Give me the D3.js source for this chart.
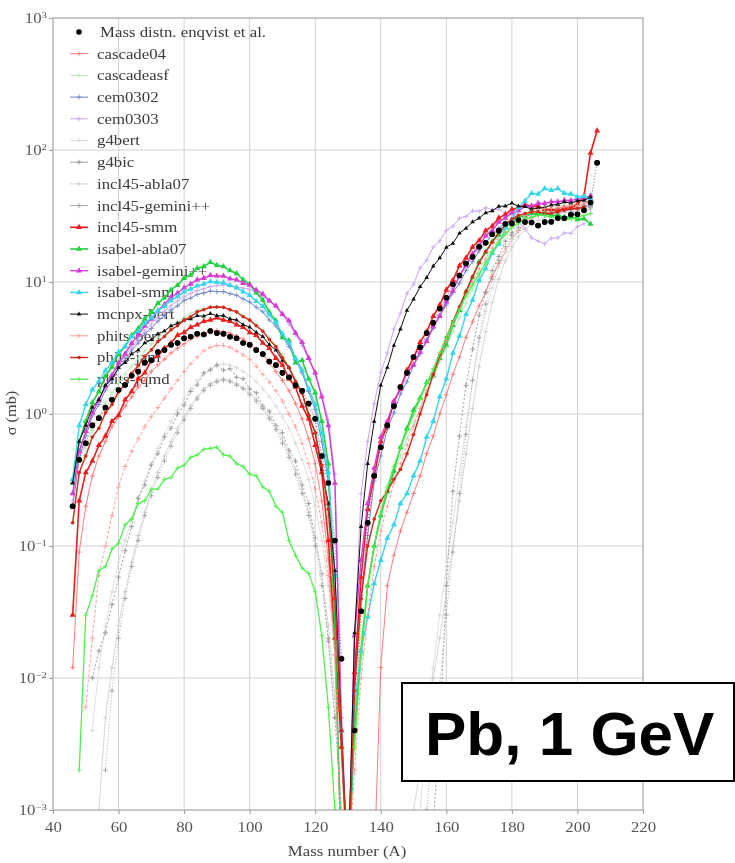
<!DOCTYPE html>
<html><head><meta charset="utf-8">
<script src="https://cdn.jsdelivr.net/npm/d3@7"></script>
<style>body{margin:0;background:#fff} svg{display:block}</style>
</head><body>
<svg id="chart" width="735" height="863"></svg>
<script>
// ---------------- DATA ----------------
const massNumbers = [46,48,50,52,54,56,58,60,62,64,66,68,70,72,74,76,78,80,82,84,86,88,90,92,94,96,98,100,102,104,106,108,110,112,114,116,118,120,122,124,126,128,
  130,132,134,136,138,140,142,144,146,148,150,152,154,156,158,160,162,164,166,168,170,172,174,176,178,180,182,184,186,188,190,192,194,196,198,200,202,204,206,208];
const xTickValues = [40,60,80,100,120,140,160,180,200,220];
const yTickExponents = [-3,-2,-1,0,1,2,3];
const seriesNames = ["Mass distn. enqvist et al.","cascade04","cascadeasf","cem0302","cem0303","g4bert","g4bic",
  "incl45-abla07","incl45-gemini++","incl45-smm","isabel-abla07","isabel-gemini++","isabel-smm","mcnpx-bert","phits-bert","phits-jam","phits-jqmd"];

const expData = [0.2,0.45,0.6,0.82,0.93,1.12,1.28,1.52,1.66,1.95, 2.1,2.45,2.55,2.95,3.05,3.35,3.45,3.75,3.85,4.05,
  4.0,4.25,4.1,4.05,3.85,3.75,3.45,3.35,3.05,2.85, 2.5,2.35,2.05,1.9,1.65,1.5,1.2,0.92,0.48,0.3, 0.11,0.014,
  null,0.004,0.032,0.15,0.34,0.56,0.82,1.15,1.6,2.05, 2.7,3.2,4.1,4.9,6.3,7.6,9.6,11.2,13.8,15.5,
  18.5,19.8,23,24.5,27.5,27.8,29.5,28.5,28.2,26.8, 28.5,28.6,30.5,30.4,32.5,32.6,35,40,80,null];
const cascade04 = [0.012,0.09,0.2,0.34,0.48,0.62,0.8,0.95,1.15,1.35, 1.6,1.8,2.1,2.35,2.6,2.9,3.15,3.4,3.7,3.9,
  4.1,4.2,4.3,4.2,4.1,3.9,3.7,3.4,3.1,2.8, 2.45,2.1,1.8,1.5,1.2,0.92,0.65,0.42,0.22,0.08, 0.015,0.0004,
  null,null,null,null,0.0004,0.012,0.05,0.085,0.13,0.18, 0.25,0.34,0.5,0.68,1.0,1.4,2.0,2.7,3.8,5.0,
  6.6,8.4,11,13.8,17,21,24.5,28,30.5,33, 34,35.5,36,37.5,38,39,40,42,null,null];
const cascadeasf = [0.15,0.35,0.55,0.75,0.95,1.2,1.45,1.7,2.0,2.3, 2.65,3.0,3.4,3.8,4.2,4.6,5.0,5.4,5.8,6.1,
  6.3,6.5,6.5,6.4,6.2,5.9,5.6,5.2,4.8,4.3, 3.8,3.3,2.8,2.3,1.85,1.45,1.05,0.7,0.4,0.15, 0.03,0.003,
  0.0003,0.004,0.02,0.05,0.1,0.17,0.25,0.35,0.48,0.65, 0.85,1.1,1.45,1.9,2.5,3.2,4.2,5.4,6.9,8.7,
  11,13.5,16.5,20,23.5,27,30,33,35,36, 37,37.5,38,38,38.5,39,39.5,40,null,null];
const cem0302 = [0.2,0.46,0.68,0.97,1.18,1.52,1.78,2.22,2.55,3.05, 3.45,4.05,4.45,5.05,5.55,6.15,6.6,7.25,7.55,8.05,
  8.25,8.55,8.45,8.45,8.15,7.95,7.45,7.05,6.45,5.95, 5.15,4.65,3.85,3.25,2.55,2.05,1.48,1.08,0.62,0.31, 0.06,0.005,
  0.0003,0.009,0.042,0.12,0.31,0.48,0.77,1.02,1.42,1.76, 2.35,2.85,3.65,4.45,5.6,6.7,8.3,9.8,12.2,14.3,
  17.2,19.6,23.3,25.6,28.4,29.6,31.3,31.6,32.4,32.6, 33.4,33.6,34.5,34.6,35.4,35.7,37.2,38,null,null];
const cem0303 = [0.22,0.5,0.72,1.0,1.3,1.6,1.95,2.35,2.75,3.2, 3.7,4.25,4.8,5.4,6.0,6.6,7.2,7.7,8.2,8.6,
  8.9,9.2,9.4,9.5,9.4,9.2,9.0,8.8,8.3,7.8, 7.2,6.5,5.7,4.8,4.0,3.3,2.6,2.0,1.4,0.9, 0.35,0.006,
  0.0003,0.02,0.25,0.62,1.2,2.05,2.9,4.4,5.8,8.2, 9.6,12.8,14.6,18.4,20.5,24.6,26.4,30.5,31.4,34.5,
  34.4,36.5,35.2,35.6,33.2,32.4,28.5,25.4,21.6,20.4, 19.5,21.4,21.6,23.5,23.4,26.3,27.6,null,null,null];
const g4bert = [null,null,null,0.004,0.012,0.025,0.045,0.075,0.11,0.16, 0.23,0.31,0.42,0.55,0.7,0.88,1.08,1.3,1.55,1.8,
  2.0,2.2,2.35,2.4,2.35,2.25,2.1,1.95,1.75,1.55, 1.35,1.15,0.95,0.78,0.6,0.45,0.32,0.2,0.11,0.05, 0.015,0.003,
  null,null,null,null,null,null,null,null,null,null, null,0.001,0.004,0.012,0.03,0.07,0.15,0.35,0.8,1.8,
  3.5,6,9,13,17,21,25,28,30,32, 33,34,34.5,35,35.5,36,36.5,37,null,null];
const g4bic = [null,null,null,0.01,0.016,0.022,0.036,0.058,0.092,0.14, 0.23,0.29,0.41,0.5,0.67,0.78,1.0,1.17,1.48,1.66,
  2.05,2.15,2.35,2.15,2.2,1.9,1.85,1.55,1.45,1.15, 1.05,0.82,0.72,0.53,0.44,0.29,0.21,0.115,0.062,0.019, 0.005,0.001,
  null,null,null,null,null,null,null,null,null,null, null,null,null,0.0008,0.004,0.05,0.26,0.68,1.65,3.1,
  5.6,8.3,12.2,15.6,20.4,23.6,28.4,30.6,33.5,33.6, 35.4,34.6,36.4,35.6,37.4,36.6,38.3,37.5,null,null];
const incl45Abla07 = [null,null,null,null,0.001,0.005,0.012,0.025,0.045,0.075, 0.12,0.18,0.26,0.36,0.48,0.62,0.78,0.95,1.15,1.35,
  1.55,1.7,1.8,1.85,1.8,1.7,1.58,1.45,1.3,1.12, 0.95,0.8,0.65,0.5,0.38,0.27,0.18,0.11,0.06,0.025, 0.007,0.001,
  null,null,null,null,null,null,null,null,null,null, 0.001,0.002,0.005,0.01,0.02,0.045,0.1,0.22,0.5,1.1,
  2.3,4.2,7,10.5,14.5,18.5,22,25,27.5,29.5, 31,32,33,33.5,34,34.5,35,35.5,null,null];
const incl45Gemini = [null,null,null,null,null,0.002,0.008,0.02,0.04,0.07, 0.11,0.17,0.24,0.33,0.44,0.57,0.72,0.9,1.1,1.3,
  1.5,1.65,1.75,1.8,1.75,1.65,1.55,1.4,1.25,1.1, 0.92,0.76,0.6,0.47,0.35,0.25,0.17,0.1,0.05,0.02, 0.005,null,
  null,null,null,null,null,null,null,null,null,null, null,null,0.001,0.003,0.009,0.03,0.09,0.25,0.7,1.8,
  3.8,6.8,10.5,14.5,18.5,22.5,26,29,31,32.5, 33.5,34,34.5,35,35,35.5,36,36.5,null,null];
const incl45Smm = [0.03,0.22,0.36,0.44,0.58,0.68,0.88,0.98,1.28,1.48, 1.85,2.05,2.55,2.75,3.15,3.45,3.95,4.15,4.55,4.75,
  5.05,5.15,5.35,5.15,5.05,4.75,4.55,4.15,3.95,3.45, 3.15,2.65,2.35,1.85,1.6,1.15,0.92,0.58,0.36,0.11, 0.02,0.003,
  0.0003,0.011,0.058,0.19,0.34,0.62,0.82,1.25,1.55,2.15, 2.65,3.5,4.2,5.5,6.7,8.7,10.3,13.3,15.2,18.4,
  20.6,24.5,26.5,30.6,32.4,35.6,36.4,38.5,37.4,37.6, 35.4,35.6,34.6,36.4,36.5,38.6,45,95,140,null];
const isabelAbla07 = [0.3,0.62,0.88,1.22,1.48,1.93,2.27,2.85,3.25,3.95, 4.45,5.25,5.9,6.9,7.6,8.75,9.45,10.7,11.3,12.7,
  13.1,14.1,13.4,13.1,12.2,11.6,10.4,9.6,8.3,7.3, 5.9,5.1,3.8,3.6,2.45,2.55,1.85,1.45,0.88,0.42, 0.025,0.0004,
  0.0003,0.004,0.016,0.05,0.1,0.17,0.26,0.37,0.56,0.78, 1.07,1.32,1.73,1.96,2.65,3.35,4.7,6.1,8.4,10.8,
  14.2,16.8,20.3,22.7,26.3,28.7,31.2,31.8,33.2,32.8, 33.2,31.8,32.3,30.8,31.2,29.8,30.2,27.5,null,null];
const isabelGemini = [0.25,0.52,0.74,1.02,1.28,1.63,1.97,2.43,2.86,3.44, 3.96,4.65,5.25,6.05,6.75,7.65,8.25,9.05,9.65,10.4,
  10.7,11.2,11.1,11.1,10.6,10.4,9.8,9.5,8.7,8.1, 7.2,6.6,5.7,5.1,4.1,3.5,2.65,2.05,1.35,0.82, 0.3,0.004,
  0.0003,0.021,0.078,0.21,0.39,0.67,0.88,1.23,1.56,2.05, 2.35,2.95,3.55,4.6,5.5,7.1,8.6,11.2,13.3,16.3,
  18.7,22.4,24.6,28.5,30.6,33.5,34.6,37.5,37.6,39.5, 39.4,40.6,40.5,41.6,41.4,42.6,43,45,null,null];
const isabelSmm = [0.32,0.82,1.18,1.53,1.77,2.14,2.46,2.95,3.25,3.85, 4.25,4.85,5.35,6.05,6.55,7.25,7.75,8.45,8.85,9.35,
  9.65,10.1,9.95,9.85,9.45,9.05,8.45,7.95,7.15,6.55, 5.65,4.95,4.05,3.45,2.65,2.15,1.55,1.18,0.72,0.36, 0.06,0.004,
  0.0003,0.006,0.016,0.029,0.052,0.078,0.115,0.145,0.21,0.25, 0.34,0.44,0.67,0.88,1.35,1.85,2.9,3.9,5.7,7.3,
  10.3,12.6,16.5,19.4,25.6,29.3,36.8,41,47,46.5, 51,49.5,51,47,46.5,44.2,44.6,42.5,null,null];
const mcnpxBert = [0.3,0.62,0.82,1.12,1.28,1.65,1.85,2.25,2.45,2.85, 3.05,3.45,3.65,4.05,4.25,4.65,4.85,5.15,5.25,5.55,
  5.5,5.75,5.55,5.55,5.25,5.15,4.75,4.55,4.15,3.85, 3.35,3.05,2.55,2.25,1.75,1.45,0.98,0.72,0.38,0.21, 0.065,0.004,
  0.0003,0.022,0.14,0.42,0.88,1.65,2.25,3.3,4.4,6.1, 7.4,9.2,10.8,13.2,15.2,18.3,19.6,23.4,25.5,28.5,
  30.5,33.4,34.6,37.4,37.6,39.5,37.5,37.2,35.6,36.4, 36.6,38.3,38.6,40.4,39.6,41.2,41.5,44,null,null];
const phitsBert = [null,null,0.006,0.02,0.06,0.1,0.17,0.28,0.4,0.52, 0.65,0.8,0.95,1.12,1.32,1.55,1.8,2.1,2.4,2.7,
  3.0,3.2,3.3,3.3,3.2,3.0,2.8,2.6,2.3,2.0, 1.75,1.5,1.25,1.0,0.8,0.6,0.42,0.27,0.15,0.06, 0.015,0.0004,
  0.0003,0.002,0.01,0.03,0.07,0.13,0.2,0.3,0.42,0.58, 0.8,1.1,1.5,2.0,2.7,3.6,4.8,6.3,8.0,10,
  12.5,15,18,21,24,27,30,32,34,35, 36,36,37,37,38,38,39,40,null,null];
const phitsJam = [0.15,0.36,0.48,0.67,0.78,1.02,1.18,1.47,1.68,2.03, 2.32,2.74,3.06,3.54,3.86,4.34,4.66,5.14,5.46,5.94,
  6.16,6.44,6.46,6.44,6.16,5.94,5.46,5.14,4.66,4.24, 3.66,3.24,2.66,2.24,1.76,1.44,0.98,0.72,0.41,0.19, 0.04,0.004,
  0.0003,0.008,0.04,0.1,0.16,0.22,0.26,0.32,0.38,0.5, 0.7,1.0,1.4,2.0,2.8,3.8,5.0,6.5,8.5,11,
  14,17,20,24,27,30,32,33,34,34, 33,33,34,35,36,36,37,null,null,null];
const phitsJqmd = [null,0.002,0.03,0.042,0.065,0.07,0.095,0.105,0.145,0.16, 0.21,0.22,0.27,0.27,0.32,0.33,0.39,0.41,0.47,0.49,
  0.54,0.55,0.56,0.49,0.48,0.42,0.4,0.35,0.34,0.28, 0.26,0.2,0.18,0.11,0.085,0.068,0.062,0.045,0.021,0.006, 0.001,null,
  null,0.003,0.015,0.05,0.1,0.18,0.28,0.4,0.55,0.75, 1.0,1.3,1.7,2.2,2.9,3.8,4.9,6.2,7.8,9.5,
  11.5,14,17,20,23,26,28,30,31,32, 32,31,31,30,30,31,32,33,null,null];

const seriesValues = [expData,cascade04,cascadeasf,cem0302,cem0303,g4bert,g4bic,incl45Abla07,incl45Gemini,
  incl45Smm,isabelAbla07,isabelGemini,isabelSmm,mcnpxBert,phitsBert,phitsJam,phitsJqmd];

// ---------------- STYLES ----------------
const styles = [
  {color:"#000000", width:0.8, marker:"circle", line:false},
  {color:"#ff6f6f", width:0.9, marker:"plus"},
  {color:"#aee8ae", width:0.9, marker:"plus"},
  {color:"#6a82cc", width:1.0, marker:"plus"},
  {color:"#c9a4f0", width:1.0, marker:"plus"},
  {color:"#d8d8d8", width:0.8, marker:"plus"},
  {color:"#8c8c8c", width:0.8, marker:"plus", dash:"2,2"},
  {color:"#cccccc", width:0.8, marker:"plus"},
  {color:"#9a9a9a", width:0.8, marker:"plus", dash:"1,2"},
  {color:"#ee1c1c", width:1.6, marker:"triangle"},
  {color:"#22d040", width:1.6, marker:"triangle"},
  {color:"#d43cd4", width:1.4, marker:"triangle"},
  {color:"#36d6ec", width:1.4, marker:"triangle"},
  {color:"#111111", width:1.0, marker:"triangleSmall"},
  {color:"#ff9a9a", width:1.0, marker:"plus", dash:"3,2"},
  {color:"#d42a1a", width:1.4, marker:"dot"},
  {color:"#4ef04e", width:1.3, marker:"plus"}
];

// ---------------- CHART ----------------
const svg = d3.select("#chart");
const x = d3.scaleLinear().domain([40,220]).range([53,643]);
const y = d3.scaleLog().domain([1e-3,1e3]).range([810,18]);
const serif = "'Liberation Serif','DejaVu Serif',Times,serif";
const stretchX = 1.2;

const defs = svg.append("defs");
defs.append("filter").attr("id","soft").attr("x","-2%").attr("y","-2%").attr("width","104%").attr("height","104%")
  .append("feGaussianBlur").attr("stdDeviation",0.55);
defs.append("clipPath").attr("id","plotclip").append("rect")
  .attr("x",x(40)).attr("y",y(1e3)).attr("width",x(220)-x(40)).attr("height",y(1e-3)-y(1e3));

const root = svg.append("g").attr("filter","url(#soft)");

// grid
const grid = root.append("g");
grid.selectAll("line.vx").data(xTickValues).join("line")
  .attr("x1",d=>x(d)).attr("x2",d=>x(d)).attr("y1",y(1e-3)).attr("y2",y(1e3))
  .attr("stroke","#d0d0d0").attr("stroke-width",1);
grid.selectAll("line.hy").data(yTickExponents).join("line")
  .attr("x1",x(40)).attr("x2",x(220)).attr("y1",d=>y(Math.pow(10,d))).attr("y2",d=>y(Math.pow(10,d)))
  .attr("stroke","#d0d0d0").attr("stroke-width",1);
root.append("rect").attr("x",x(40)).attr("y",y(1e3)).attr("width",x(220)-x(40)).attr("height",y(1e-3)-y(1e3))
  .attr("fill","none").attr("stroke","#a8a8a8").attr("stroke-width",1);

// axes
const xAxis = root.append("g").attr("transform",`translate(0,${y(1e-3)})`)
  .call(d3.axisBottom(x).tickValues(xTickValues).tickSize(4).tickPadding(8).tickFormat(d3.format("d")));
xAxis.select(".domain").remove();
xAxis.selectAll("line").attr("stroke","#999");
xAxis.selectAll("text").attr("font-family",serif).attr("font-size",14).attr("fill","#555")
  .attr("transform",`scale(${stretchX},1)`);

const yAxis = root.append("g").attr("transform",`translate(${x(40)},0)`)
  .call(d3.axisLeft(y).tickValues(yTickExponents.map(e=>Math.pow(10,e))).tickSize(4).tickPadding(6).tickFormat(""));
yAxis.select(".domain").remove();
yAxis.selectAll("line").attr("stroke","#999");
yAxis.selectAll(".tick").each(function(d){
  const t = d3.select(this).append("text").attr("x",-5).attr("dy","0.35em").attr("text-anchor","end")
    .attr("font-family",serif).attr("font-size",14).attr("fill","#555")
    .attr("transform",`scale(${stretchX},1)`);
  t.append("tspan").text("10");
  t.append("tspan").attr("dy","-0.55em").attr("font-size",9).text(String(Math.round(Math.log10(d))).replace("-","\u2212"));
});

root.append("text").attr("transform",`translate(347,856) scale(${stretchX},1)`).attr("text-anchor","middle")
  .attr("font-family",serif).attr("font-size",14).attr("fill","#444").text("Mass number (A)");
root.append("text").attr("transform","translate(16,413) rotate(-90) scale(1.25,1.1)").attr("text-anchor","middle")
  .attr("font-family",serif).attr("font-size",13).attr("fill","#444").text("\u03c3 (mb)");

// marker drawing
function drawMarker(g, style, px, py){
  const c = style.color;
  if(style.marker==="circle"){
    g.append("circle").attr("cx",px).attr("cy",py).attr("r",2.8).attr("fill",c);
  } else if(style.marker==="dot"){
    g.append("circle").attr("cx",px).attr("cy",py).attr("r",1.8).attr("fill",c);
  } else if(style.marker==="triangle" || style.marker==="triangleSmall"){
    g.append("path").attr("transform",`translate(${px},${py})`)
      .attr("d",d3.symbol(d3.symbolTriangle, style.marker==="triangle"?16:9)()).attr("fill",c);
  } else {
    g.append("path").attr("d",`M${px-2.5},${py}H${px+2.5}M${px},${py-2.5}V${py+2.5}`)
      .attr("stroke",c).attr("stroke-width",0.8);
  }
}

// legend (drawn beneath data)
const legend = root.append("g");
seriesNames.forEach((name,i)=>{
  const ly = 32 + i*21.7;
  const st = styles[i];
  const lg = legend.append("g");
  if(i>0){
    lg.append("line").attr("x1",70).attr("x2",88).attr("y1",ly).attr("y2",ly)
      .attr("stroke",st.color).attr("stroke-width",st.width);
  }
  drawMarker(lg, st, 79, ly);
  lg.append("text").attr("transform",`translate(${i===0?100:97},${ly}) scale(${stretchX},1)`).attr("dy","0.35em")
    .attr("font-family",serif).attr("font-size",14).attr("fill","#3a3a3a").text(name);
});

// data
const plot = root.append("g").attr("clip-path","url(#plotclip)");
const line = d3.line().defined(d=>d[1]!=null).x(d=>x(d[0])).y(d=>y(d[1]));

seriesValues.forEach((vals,i)=>{
  const st = styles[i];
  const pts = massNumbers.map((a,k)=>[a, vals[k]]);
  const g = plot.append("g");
  if(st.line!==false){
    g.append("path").attr("d",line(pts)).attr("fill","none").attr("stroke",st.color)
      .attr("stroke-width",st.width).attr("stroke-dasharray",st.dash||null);
  } else {
    g.append("path").attr("d",line(pts)).attr("fill","none").attr("stroke",st.color)
      .attr("stroke-width",0.6).attr("stroke-dasharray","1,2");
  }
  pts.filter(d=>d[1]!=null).forEach(d=>drawMarker(g, st, x(d[0]), y(d[1])));
});
// experimental markers again on top
{
  const st = styles[0];
  const g = plot.append("g");
  massNumbers.forEach((a,k)=>{ if(expData[k]!=null) drawMarker(g, st, x(a), y(expData[k])); });
}

// Label box (crisp)
svg.append("rect").attr("x",402).attr("y",683).attr("width",332).attr("height",98)
  .attr("fill","#fff").attr("stroke","#000").attr("stroke-width",2);
svg.append("text").attr("x",425).attr("y",755)
  .attr("font-family","'Liberation Sans',Arial,Helvetica,sans-serif").attr("font-weight","bold")
  .attr("font-size",62).attr("fill","#000").text("Pb, 1 GeV");
</script>
</body></html>
